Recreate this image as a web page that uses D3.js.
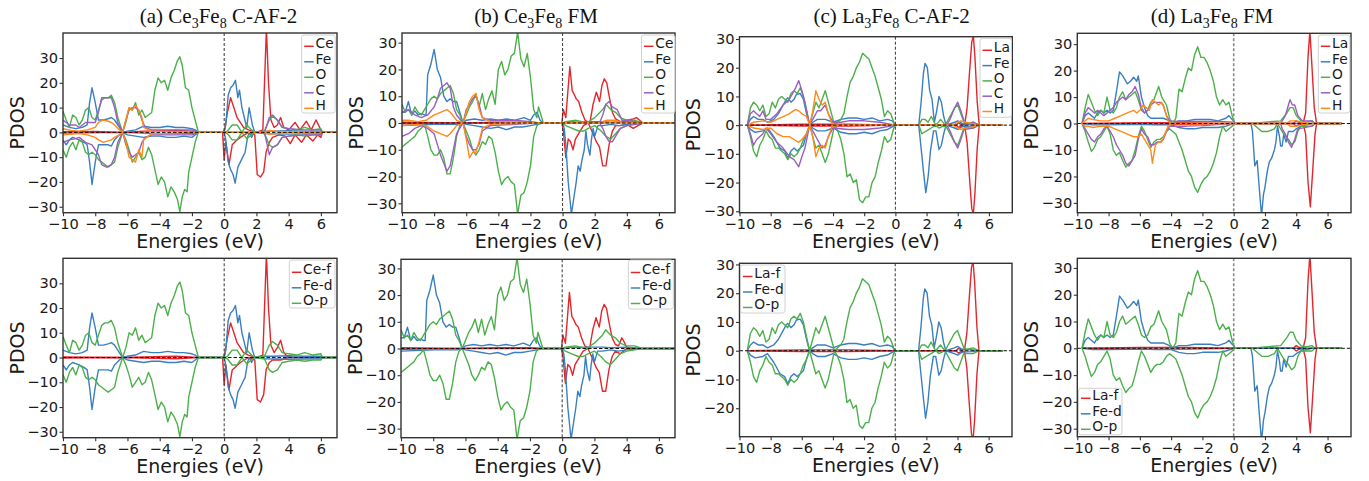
<!DOCTYPE html>
<html><head><meta charset="utf-8">
<script src="https://cdn.jsdelivr.net/npm/d3@7"></script>
<style>body{margin:0;background:#fff}svg{display:block}</style>
</head><body><svg id="c" width="1369" height="481"></svg>
<script>
// ---------- DATA (energy eV, PDOS) ----------
const xTicks=[-10,-8,-6,-4,-2,0,2,4,6];
const yTicks=[-30,-20,-10,0,10,20,30];
const yTicksC=[-20,-10,0,10,20,30];
const titlesMain=["(a) Ce","(b) Ce","(c) La","(d) La"];
const titlesTail=[" C-AF-2"," FM"," C-AF-2"," FM"];
const topLabels=[["Ce","Fe","O","C","H"],["Ce","Fe","O","C","H"],["La","Fe","O","C","H"],["La","Fe","O","C","H"]];
const botLabels=[["Ce-f","Fe-d","O-p"],["Ce-f","Fe-d","O-p"],["La-f","Fe-d","O-p"],["La-f","Fe-d","O-p"]];

// (a) Ce3Fe8 C-AF-2
const aCe_up=[[-10,0.3],[-8,0.4],[-6.3,0],[-5,0.5],[-3,0.8],[-2,0.5],[-1.6,0],[-0.05,0],[0.05,2],[0.2,8],[0.4,14],[0.6,10],[0.8,6],[1.0,4],[1.2,2],[1.5,1],[2.0,0],[2.4,1],[2.62,42],[2.75,20],[2.9,5],[3.1,2],[3.3,3],[3.5,6],[3.7,2],[4.0,1],[4.4,4],[4.7,1],[5.1,4.5],[5.4,1],[5.7,5],[6.0,1],[6.1,0],[7,0]];
const aCe_dn=[[-10,-0.3],[-6.3,0],[-4,-0.5],[-2,-0.5],[-1.6,0],[-0.1,0],[0.0,-11],[0.1,-4],[0.3,-13],[0.5,-5],[0.8,-3],[1.0,-2],[1.5,0],[1.9,-1],[2.05,-17],[2.25,-18],[2.45,-16],[2.6,-8],[2.8,-4],[3.0,-2],[3.4,-1],[3.8,-1.5],[4.1,-4.5],[4.4,-1],[4.8,-4],[5.1,-1],[5.5,-3.5],[5.8,-1],[6.0,-2],[6.1,0],[7,0]];
const aCef_up=[[-10,0.2],[-6.3,0],[-3,0.5],[-1.6,0],[-0.05,0],[0.05,2],[0.2,8],[0.4,14],[0.6,10],[0.8,6],[1.0,4],[1.2,2],[1.5,1],[2.0,0],[2.4,1],[2.62,42],[2.75,20],[2.9,5],[3.1,2],[3.3,4],[3.5,7],[3.7,2],[3.9,0.5],[4.2,0],[7,0]];
const aCef_dn=[[-10,-0.2],[-6.3,0],[-3,-0.5],[-1.6,0],[-0.1,0],[0.0,-11],[0.1,-3],[0.3,-13],[0.5,-5],[1.0,-2],[1.5,0],[1.9,-1],[2.05,-17],[2.25,-18],[2.45,-15],[2.6,-5],[2.8,-2],[3.0,-1],[3.5,-1],[4.0,0],[7,0]];
const aFe_up=[[-10,3],[-9.8,2.5],[-9.6,2],[-9.2,1.5],[-8.8,2],[-8.5,3],[-8.35,12],[-8.2,18],[-8.0,12],[-7.8,5],[-7.5,5],[-7.2,5.5],[-7.0,6],[-6.8,5],[-6.5,2],[-6.3,0],[-6.0,0.5],[-5.5,1],[-5.0,2.5],[-4.5,2],[-4.0,2],[-3.5,2.5],[-3.0,2],[-2.5,2],[-2.0,1.5],[-1.8,1],[-1.6,0],[0,0],[0.1,3],[0.25,15],[0.4,18],[0.55,19],[0.7,21],[0.85,14],[0.95,17],[1.1,10],[1.25,6],[1.4,2],[1.55,10],[1.75,3],[1.9,0],[2.5,0.5],[3,0.5],[4,0.7],[5,0.5],[6,0.5],[6.1,0],[7,0]];
const aFe_dn=[[-10,-3],[-9.8,-5],[-9.6,-3],[-9.4,-2],[-9.0,-3],[-8.7,-4],[-8.5,-5],[-8.35,-12],[-8.2,-21],[-8.0,-12],[-7.8,-5],[-7.5,-5],[-7.2,-5],[-7.0,-5.5],[-6.8,-3],[-6.5,-1],[-6.3,0],[-6.0,-1],[-5.5,-1.5],[-5.0,-2],[-4.5,-1.5],[-4.0,-1.5],[-3.5,-2],[-3.0,-2],[-2.5,-1.5],[-2.0,-2],[-1.8,-1],[-1.6,0],[0,0],[0.1,-3],[0.25,-12],[0.4,-15],[0.55,-17],[0.68,-20.5],[0.85,-14],[1.0,-12],[1.15,-10],[1.3,-8],[1.45,-2],[1.55,0],[1.7,-2],[1.85,0],[2.5,-0.5],[4,-0.7],[6,-0.5],[6.1,0],[7,0]];
const aO_up=[[-10,8.5],[-9.8,5],[-9.6,2],[-9.4,7],[-9.2,6],[-9.0,3],[-8.8,5],[-8.6,9],[-8.4,10],[-8.2,6],[-8.0,5],[-7.8,9],[-7.6,13],[-7.4,14],[-7.2,14],[-7.0,15],[-6.8,12],[-6.6,6],[-6.3,0],[-6.1,4],[-5.9,10],[-5.7,9],[-5.5,12],[-5.3,7],[-5.1,9],[-4.9,6],[-4.7,7],[-4.5,8],[-4.3,17],[-4.1,22],[-3.9,20],[-3.7,21],[-3.5,17],[-3.3,22],[-3.1,25],[-2.9,29],[-2.75,30.5],[-2.6,27],[-2.4,18],[-2.2,17],[-2.0,10],[-1.8,5],[-1.6,0],[0,0],[0.2,0.5],[0.5,3],[0.8,3],[1.1,0],[1.4,3],[1.7,1],[1.9,0],[2.5,0.5],[2.8,5],[3.0,6.5],[3.3,5],[3.6,2],[4,1.5],[4.5,1],[5,2],[5.5,1],[6,1.5],[6.1,0],[7,0]];
const aO_dn=[[-10,-7],[-9.8,-10],[-9.6,-6],[-9.4,-4],[-9.2,-7],[-9.0,-3],[-8.8,-4],[-8.6,-8],[-8.4,-9],[-8.2,-8],[-8.0,-9],[-7.8,-11],[-7.6,-12],[-7.4,-13],[-7.2,-14],[-7.0,-13],[-6.8,-12],[-6.6,-6],[-6.3,0],[-6.1,-3],[-5.9,-7],[-5.7,-12],[-5.5,-10],[-5.3,-8],[-5.1,-11],[-4.9,-10],[-4.7,-6],[-4.5,-9],[-4.3,-15],[-4.1,-21],[-3.9,-18],[-3.7,-20],[-3.5,-26],[-3.3,-22],[-3.1,-24],[-2.9,-27],[-2.75,-32],[-2.6,-26],[-2.45,-23],[-2.3,-24],[-2.2,-16],[-2.0,-10],[-1.8,-4],[-1.6,0],[0,0],[0.2,-0.5],[0.5,-3],[0.8,-3],[1.1,0],[1.4,-2.5],[1.7,-1],[1.9,0],[2.5,-0.5],[2.8,-5],[3.0,-6],[3.3,-5],[3.6,-2],[4,-1.5],[4.5,-1],[5,-1.5],[5.5,-1],[6,-1],[6.1,0],[7,0]];
const aC_up=[[-10,5],[-9.8,4],[-9.6,3],[-9.2,3],[-9,2],[-8.6,4],[-8.2,4],[-8.0,4],[-7.8,8],[-7.6,14],[-7.3,14],[-7.0,14],[-6.8,10],[-6.6,4],[-6.3,0],[-6.1,5],[-5.9,9],[-5.7,10],[-5.5,10],[-5.3,9],[-5.1,5],[-4.9,2],[-4.5,1],[-3.5,1],[-2.5,1],[-2,1],[-1.6,0],[2.5,0],[2.8,6],[3.0,7],[3.3,5],[3.6,2],[4,1.5],[5,1],[6,1],[6.1,0],[7,0]];
const aC_dn=[[-10,-4],[-9.6,-3],[-9.2,-2.5],[-9,-2],[-8.6,-4],[-8.2,-5],[-7.8,-9],[-7.6,-13],[-7.3,-14],[-7.0,-13],[-6.8,-10],[-6.6,-4],[-6.3,0],[-6.1,-5],[-5.9,-8],[-5.7,-10],[-5.5,-9],[-5.3,-8],[-5.1,-4],[-4.9,-2],[-4.5,-1],[-3,-1],[-2,-1],[-1.6,0],[2.5,0],[2.8,-9],[3.0,-6],[3.3,-5],[3.6,-2],[4,-1.5],[5,-1],[6,-1],[6.1,0],[7,0]];
const aH_up=[[-10,1.5],[-9.5,0.8],[-9,0.5],[-8.5,1],[-8,2],[-7.8,4],[-7.5,5],[-7.2,4.5],[-7,4],[-6.8,3],[-6.5,1],[-6.3,0],[-6.1,5],[-5.9,10],[-5.7,9],[-5.5,11],[-5.3,9],[-5.1,6],[-5.0,2],[-4.5,0.5],[-3,0.3],[-1.6,0],[2.5,0],[2.8,0.8],[3.2,0.5],[3.6,0],[7,0]];
const aH_dn=[[-10,-1],[-9,-0.5],[-8.5,-1],[-8,-2],[-7.8,-3],[-7.5,-4],[-7,-3],[-6.8,-2],[-6.5,-1],[-6.3,0],[-6.1,-4],[-5.9,-10],[-5.7,-11],[-5.5,-12],[-5.3,-7],[-5.1,-10],[-5.0,-3],[-4.5,-0.5],[-3,-0.3],[-1.6,0],[2.5,0],[2.8,-0.8],[3.2,-0.5],[3.6,0],[7,0]];

// (b) Ce3Fe8 FM
const bCe_up=[[-10,0.3],[-6.2,0],[-4,0.3],[-2,0.3],[-1.2,0],[-0.05,0],[0.05,5],[0.2,2],[0.45,21],[0.6,12],[0.7,11],[0.85,9],[1.0,8],[1.2,4],[1.4,1],[1.7,0],[1.9,7],[2.1,11.5],[2.3,8],[2.45,14],[2.6,16.5],[2.75,15],[2.9,10],[3.1,4],[3.3,1.5],[3.6,0.5],[4,1],[4.4,1.5],[4.6,2],[4.8,1],[5,0],[7,0]];
const bCe_dn=[[-10,-0.3],[-6.2,0],[-1.2,0],[-0.05,0],[0.05,-3],[0.2,-13],[0.35,-6],[0.5,-7],[0.65,-10],[0.8,-6],[1.0,-4],[1.3,-1],[1.6,0],[1.9,-4],[2.1,-7],[2.3,-9],[2.5,-16],[2.7,-16],[2.9,-8],[3.1,-3],[3.3,-1],[3.6,-1],[4,-0.5],[4.4,-2],[4.7,-1],[5,0],[7,0]];
const bCef_up=[[-10,0.3],[-6.2,0],[-4,0.3],[-2,0.3],[-1.2,0],[-0.05,0],[0.05,5],[0.2,2],[0.45,21],[0.6,12],[0.7,11],[0.85,9],[1.0,8],[1.2,4],[1.4,1],[1.7,0],[1.9,7],[2.1,11.5],[2.3,8],[2.45,14],[2.6,16.5],[2.75,15],[2.9,10],[3.1,4],[3.3,1.5],[3.5,1],[3.7,4],[3.8,3],[4.0,0.5],[4.2,0],[7,0]];
const bCef_dn=[[-10,-0.3],[-6.2,0],[-1.2,0],[-0.05,0],[0.05,-3],[0.2,-13],[0.35,-6],[0.5,-7],[0.65,-10],[0.8,-6],[1.0,-4],[1.3,-1],[1.6,0],[1.9,-4],[2.1,-7],[2.3,-9],[2.5,-16],[2.7,-16],[2.9,-8],[3.1,-3],[3.3,-1],[3.6,-2],[3.8,-1],[4,0],[7,0]];
const bFe_up=[[-10,4],[-9.8,4],[-9.6,8],[-9.4,3],[-9.2,4.5],[-9,3],[-8.8,3.5],[-8.6,3],[-8.5,3],[-8.4,18],[-8.2,22],[-8.0,27.5],[-7.8,20],[-7.6,17],[-7.4,10],[-7.2,8],[-7.0,9],[-6.8,8],[-6.6,8],[-6.4,4],[-6.2,0],[-6.0,1],[-5.5,1.5],[-5,1],[-4.5,1.5],[-4,1],[-3.5,1.5],[-3,1],[-2.4,2],[-2,1],[-1.8,3],[-1.6,4],[-1.4,1],[-1.2,0],[0,0],[0.5,0.5],[1,0.3],[1.5,0.5],[2.5,0.5],[3,0.3],[4,0.5],[5,0],[7,0]];
const bFe_dn=[[-10,-1],[-8,-0.5],[-6.5,-0.5],[-6.2,0],[-6,-0.5],[-5.5,-1],[-5,-1.5],[-4.5,-2],[-4,-1.5],[-3.5,-2.5],[-3,-1.5],[-2.5,-1.5],[-2,-1],[-1.6,-0.5],[-1.2,0],[0,0],[0.1,-2],[0.2,-8],[0.35,-22],[0.45,-28],[0.55,-34],[0.7,-28],[0.85,-22],[0.97,-16],[1.1,-18],[1.2,-14],[1.35,-10],[1.45,-3],[1.55,-8],[1.7,-12],[1.8,-6],[1.9,-2],[2.0,-5],[2.2,-1],[2.5,-1],[3,-0.5],[3.5,-1],[4,-0.5],[5,0],[7,0]];
const bO_up=[[-10,7],[-9.8,4],[-9.6,5],[-9.4,3],[-9.2,6],[-9,4],[-8.8,3],[-8.6,5],[-8.4,7],[-8.2,9],[-8.0,10],[-7.8,9],[-7.6,11],[-7.4,12],[-7.2,13],[-7.0,14],[-6.8,11],[-6.6,5],[-6.4,3],[-6.2,0],[-6.0,3],[-5.8,6],[-5.6,8],[-5.4,11],[-5.2,6],[-5.0,11],[-4.8,5],[-4.6,9],[-4.4,12],[-4.2,7],[-4.0,20],[-3.8,23],[-3.6,18],[-3.4,20],[-3.2,25],[-3.0,26],[-2.8,34],[-2.6,24],[-2.4,21],[-2.2,26],[-2.0,17],[-1.8,5],[-1.6,2],[-1.5,6],[-1.4,4],[-1.2,0],[0,0],[0.2,0.5],[0.8,1],[1.2,0.5],[1.5,0],[2.0,2],[2.5,5],[2.7,7],[3,5],[3.3,4],[3.6,2],[4,1],[4.5,1],[5,0],[7,0]];
const bO_dn=[[-10,-9],[-9.8,-8],[-9.6,-7],[-9.4,-6],[-9.2,-5],[-9,-3],[-8.8,-2],[-8.6,-0.5],[-8.4,-5],[-8.2,-10],[-8,-12],[-7.8,-12],[-7.6,-10],[-7.4,-13],[-7.2,-19],[-7.0,-19],[-6.8,-13],[-6.6,-5],[-6.4,-1],[-6.2,0],[-6.0,-3],[-5.8,-6],[-5.6,-10],[-5.4,-12],[-5.2,-10],[-5.0,-7],[-4.8,-8],[-4.6,-5],[-4.4,-6],[-4.2,-11],[-4,-18],[-3.8,-23],[-3.6,-21],[-3.4,-20],[-3.2,-22],[-3.0,-23],[-2.8,-34],[-2.6,-27],[-2.4,-26],[-2.2,-22],[-2.0,-16],[-1.8,-5],[-1.6,-1],[-1.4,0],[0,0],[0.2,-1],[0.6,-2],[1,-3],[1.3,-3],[1.6,-2],[2,-1],[2.4,-3],[2.7,-5],[3.0,-6],[3.3,-4],[3.6,-2],[4,-1],[5,0],[7,0]];
const bC_up=[[-10,4],[-9.6,5],[-9.2,3],[-8.8,2],[-8.4,3],[-8,6],[-7.8,9],[-7.6,13],[-7.4,14],[-7.2,15],[-7.0,13],[-6.8,6],[-6.6,3],[-6.2,0],[-6,5],[-5.8,7],[-5.6,9],[-5.4,10],[-5.2,7],[-5.0,2],[-4.5,1],[-3,1],[-2,0.5],[-1.5,0],[2.3,0],[2.5,3],[2.7,7],[2.9,8],[3.1,6],[3.4,5],[3.7,1],[4,1],[5,0],[7,0]];
const bC_dn=[[-10,-5],[-9.6,-4],[-9.2,-2],[-8.8,-1],[-8.4,-2],[-8,-4],[-7.8,-8],[-7.6,-12],[-7.4,-15],[-7.2,-18],[-7.0,-16],[-6.8,-10],[-6.6,-4],[-6.2,0],[-6,-5],[-5.8,-8],[-5.6,-10],[-5.4,-10],[-5.2,-8],[-5.0,-3],[-4.5,-1],[-3,-0.5],[-1.5,0],[2.3,0],[2.5,-2],[2.7,-5],[2.9,-7],[3.1,-7],[3.3,-5],[3.6,-2],[4,-1],[5,0],[7,0]];
const bH_up=[[-10,1],[-9.6,1],[-9,0.5],[-8.5,1],[-8,3],[-7.6,4],[-7.2,5],[-7.0,4],[-6.6,1],[-6.2,0],[-6.0,4],[-5.8,8],[-5.6,10],[-5.4,11],[-5.2,5],[-5,2],[-4.5,0.5],[-3,0.2],[-1.5,0],[2.3,0],[2.7,1],[3.3,1],[3.8,0],[7,0]];
const bH_dn=[[-10,-1],[-9,-0.5],[-8.5,-1],[-8,-3],[-7.6,-4],[-7.2,-5],[-7,-4],[-6.6,-1],[-6.2,0],[-6,-6],[-5.8,-13],[-5.6,-11],[-5.4,-11],[-5.2,-7],[-5,-2],[-4.5,-0.5],[-3,-0.2],[-1.5,0],[7,0]];

// (c) La3Fe8 C-AF-2
const cLa_up=[[-9.5,0],[-6,0.3],[-3,0.3],[0,0],[3.9,0],[4.05,0.8],[4.25,0.3],[4.45,0.3],[4.6,6],[4.75,18],[4.9,29],[5.0,31],[5.1,24],[5.25,8],[5.38,0],[6.9,0]];
const cLa_dn=[[-9.5,0],[-6,-0.3],[-3,-0.3],[0,0],[3.9,0],[4.05,-0.8],[4.25,-0.3],[4.45,-0.3],[4.6,-6],[4.75,-18],[4.9,-29],[5.0,-31],[5.1,-24],[5.25,-8],[5.38,0],[6.9,0]];
const cFe_up=[[-9.5,0],[-9.3,2],[-9.1,3],[-8.8,2],[-8.5,2],[-8.2,1],[-7.8,2],[-7.5,4],[-7.2,7],[-7.0,9],[-6.9,9.5],[-6.7,8],[-6.5,9],[-6.35,10.7],[-6.1,11],[-5.9,9],[-5.7,4],[-5.5,0],[-5.3,1],[-5,2],[-4.5,2],[-4,1],[-3.5,2],[-3,2.5],[-2.5,2.5],[-2,2],[-1.5,2.5],[-1,1.5],[-0.5,2],[-0.2,1.5],[0,0],[1.5,0],[1.65,8],[1.8,18],[1.9,21.5],[2.05,20],[2.2,12],[2.35,9],[2.5,1],[2.65,5],[2.8,10],[2.95,8],[3.1,3],[3.25,0],[3.8,1],[4.0,1.5],[4.3,0.5],[5,0.3],[5.3,0],[6.9,0]];
const cFe_dn=[[-9.5,0],[-9.3,-1.5],[-9.0,-2.5],[-8.5,-2],[-8.2,-1],[-7.8,-4],[-7.4,-8],[-7.1,-9],[-6.9,-11.5],[-6.7,-9],[-6.5,-8],[-6.3,-9],[-6.1,-8],[-5.9,-7],[-5.7,-3],[-5.5,0],[-5.3,-1],[-5,-2],[-4.5,-2],[-4,-1],[-3.5,-2.5],[-3,-3],[-2.5,-3],[-2,-2.5],[-1.5,-3],[-1,-2],[-0.5,-1.5],[0,0],[1.5,0],[1.65,-8],[1.8,-16],[1.95,-23.5],[2.1,-18],[2.25,-9],[2.45,-2],[2.6,-2],[2.8,-8.5],[2.95,-7],[3.1,-3],[3.25,0],[3.8,-1],[4.0,-1.5],[4.3,-0.5],[5,-0.3],[5.3,0],[6.9,0]];
const cO_up=[[-9.5,0],[-9.3,6],[-9.1,8],[-8.9,7],[-8.7,5],[-8.5,7],[-8.3,3],[-8.1,4],[-7.9,8],[-7.7,6],[-7.5,9],[-7.3,10],[-7.1,9],[-6.9,8],[-6.7,11],[-6.5,12],[-6.3,11],[-6.1,13],[-5.9,10],[-5.7,5],[-5.5,0],[-5.3,4],[-5.1,8],[-4.9,6],[-4.7,9],[-4.5,12],[-4.3,8],[-4.1,4],[-3.9,0],[-3.7,1],[-3.5,2],[-3.3,4],[-3.1,10],[-2.9,15],[-2.7,17],[-2.5,20],[-2.3,22],[-2.1,25],[-1.9,24],[-1.7,23],[-1.5,20],[-1.3,17],[-1.1,13],[-0.9,9],[-0.7,3],[-0.5,5],[-0.3,4],[-0.1,1],[0,0],[1.5,0],[1.7,2],[1.9,2],[2.1,1],[2.3,3],[2.6,0],[2.9,2],[3.2,0],[3.5,3],[3.8,6],[4.0,7],[4.2,4],[4.4,1],[4.6,0.5],[5,1],[5.2,0.5],[5.4,0],[6.9,0]];
const cO_dn=[[-9.5,0],[-9.3,-4],[-9.1,-9],[-8.9,-11],[-8.7,-7],[-8.5,-5],[-8.3,-2],[-8.1,-4],[-7.9,-5],[-7.7,-8],[-7.5,-8],[-7.3,-9],[-7.1,-10],[-6.9,-12],[-6.7,-10],[-6.5,-11],[-6.3,-10],[-6.1,-8],[-5.9,-5],[-5.7,-3],[-5.5,0],[-5.3,-4],[-5.1,-8],[-4.9,-7],[-4.7,-10],[-4.5,-13],[-4.3,-10],[-4.1,-5],[-3.9,0],[-3.7,-2],[-3.5,-5],[-3.3,-10],[-3.1,-18],[-2.9,-17],[-2.7,-20],[-2.5,-19],[-2.3,-26],[-2.1,-27],[-1.9,-25],[-1.7,-25],[-1.5,-20],[-1.3,-18],[-1.1,-13],[-0.9,-9],[-0.7,-4],[-0.5,-6],[-0.3,-5],[-0.1,-1],[0,0],[1.5,0],[1.7,-3],[2,-2],[2.3,-1],[2.6,0],[2.8,-1],[3.2,0],[3.5,-3],[3.8,-6],[4.0,-7],[4.2,-4],[4.4,-1],[5,-1],[5.4,0],[6.9,0]];
const cC_up=[[-9.5,0],[-9.3,4],[-9.1,5],[-8.9,4],[-8.7,3],[-8.5,5],[-8.3,2],[-8.0,2],[-7.6,4],[-7.2,7],[-6.8,9],[-6.6,11],[-6.4,13],[-6.2,15.5],[-6.0,12],[-5.8,8],[-5.5,0],[-5.3,2],[-5.0,5],[-4.8,5],[-4.5,7],[-4.3,4],[-4.0,1],[-3.5,1],[-3,1.5],[-2,1.5],[-1,1],[0,0],[3.3,0],[3.5,2],[3.8,6],[4.0,8],[4.2,5],[4.4,1.5],[4.6,0.5],[5,1],[5.3,0],[6.9,0]];
const cC_dn=[[-9.5,0],[-9.3,-3],[-9.1,-7],[-8.9,-5],[-8.5,-3],[-8.3,-1],[-8.0,-3],[-7.6,-6],[-7.2,-8],[-6.8,-11],[-6.5,-12],[-6.2,-14.5],[-6.0,-11],[-5.8,-8],[-5.5,0],[-5.3,-2],[-5.0,-5],[-4.7,-8],[-4.5,-7],[-4.3,-4],[-4.0,-1],[-3,-1.5],[-2,-1.5],[-1,-1],[0,0],[3.3,0],[3.5,-2],[3.8,-6],[4.0,-8],[4.2,-5],[4.4,-1.5],[5,-1],[5.3,0],[6.9,0]];
const cH_up=[[-9.5,0],[-9.1,1],[-8.5,1.5],[-8.0,1],[-7.6,2],[-7.2,3],[-6.8,4],[-6.4,5.5],[-6.2,5],[-6.0,4],[-5.7,3],[-5.5,0],[-5.3,5],[-5.1,12],[-4.9,9],[-4.7,7],[-4.5,8],[-4.3,4],[-4.1,1],[-3.9,0],[3.7,0],[4.0,1],[4.2,1.5],[4.5,1],[5,0.5],[5.3,0],[6.9,0]];
const cH_dn=[[-9.5,0],[-9.1,-1],[-8.5,-1.5],[-8.0,-1],[-7.6,-3],[-7.2,-4],[-6.8,-4],[-6.5,-5],[-6.2,-6],[-6.0,-5],[-5.7,-3],[-5.5,0],[-5.3,-4],[-5.1,-11],[-4.9,-8],[-4.7,-7],[-4.5,-8],[-4.3,-4],[-4.1,-1],[-3.9,0],[3.7,0],[4.0,-1],[4.2,-1.5],[4.5,-1],[5,-0.5],[5.3,0],[6.9,0]];

// (d) La3Fe8 FM
const dLa_up=[[-9.7,0],[-6,0.3],[-3,0.3],[0,0],[3.8,0],[4.0,1],[4.2,0.3],[4.45,0.3],[4.6,4],[4.75,25],[4.87,35],[5.0,22],[5.15,6],[5.3,0],[6.9,0]];
const dLa_dn=[[-9.7,0],[-6,-0.3],[-3,-0.3],[0,0],[3.8,0],[4.0,-1],[4.2,-0.3],[4.45,-0.3],[4.6,-4],[4.75,-22],[4.9,-31.5],[5.05,-18],[5.2,-4],[5.3,0],[6.9,0]];
const dFe_up=[[-9.7,0],[-9.5,3],[-9.3,4],[-9.1,3],[-8.9,2],[-8.7,4],[-8.5,5],[-8.3,4],[-8.1,5],[-7.9,4],[-7.7,5],[-7.5,12],[-7.3,19.5],[-7.1,18],[-6.9,16],[-6.8,15],[-6.6,16],[-6.4,17.5],[-6.2,16],[-6.1,18],[-5.9,10],[-5.7,6],[-5.5,3],[-5.3,2],[-5.0,2],[-4.5,2],[-4.1,1],[-4.0,0],[-3.5,1],[-3,1],[-2.5,1.5],[-2,1.5],[-1.5,1.5],[-1,1],[-0.5,2],[-0.3,3],[-0.1,1.5],[0,1],[0.1,0],[6.9,0]];
const dFe_dn=[[-9.7,0],[-9,-0.5],[-8,-0.5],[-6,-0.3],[-5,-0.5],[-4,-0.5],[-3.5,-1.5],[-3,-2],[-2.5,-2],[-2,-1.5],[-1,-1.5],[-0.5,-1],[0,0],[1.1,0],[1.2,-3],[1.35,-16],[1.5,-14],[1.63,-24],[1.78,-35],[1.9,-27],[2.0,-24],[2.15,-18],[2.28,-14.5],[2.43,-13],[2.6,-10],[2.7,-7],[2.8,-1],[2.93,-5],[3.0,-8.5],[3.1,-8.5],[3.2,-4],[3.35,-7],[3.5,-3],[3.8,-3],[4,-2],[4.3,-1],[5,0],[6.9,0]];
const dO_up=[[-9.7,0],[-9.5,6],[-9.3,11],[-9.1,8],[-8.9,5],[-8.7,3],[-8.5,5],[-8.3,4],[-8.1,10],[-7.9,5],[-7.7,4],[-7.5,6],[-7.3,10],[-7.1,12],[-6.9,9],[-6.7,10],[-6.5,11],[-6.3,12],[-6.1,9],[-5.9,5],[-5.7,4],[-5.5,5],[-5.3,8],[-5.1,9],[-4.8,14],[-4.6,10],[-4.3,7],[-4.1,2],[-3.9,0],[-3.7,2],[-3.5,13],[-3.3,12],[-3.1,17],[-2.9,21],[-2.7,20],[-2.5,26],[-2.3,29],[-2.1,25],[-1.9,25],[-1.7,23],[-1.5,20],[-1.3,16],[-1.1,10],[-0.9,7],[-0.7,9],[-0.5,7],[-0.3,8],[-0.1,3],[0,1],[0.1,0],[1.2,0],[2,0.5],[3,1],[3.4,4],[3.6,6],[3.8,6],[4.0,3],[4.3,1],[4.6,0.5],[5,1],[5.2,0],[6.9,0]];
const dO_dn=[[-9.7,0],[-9.5,-3],[-9.3,-7],[-9.1,-10.5],[-8.9,-9],[-8.7,-6],[-8.5,-5],[-8.3,-3],[-8.1,-1],[-7.9,-4],[-7.7,-10],[-7.5,-12],[-7.3,-11],[-7.1,-14],[-6.9,-16.5],[-6.7,-15],[-6.5,-14],[-6.3,-10],[-6.1,-5],[-5.9,-1],[-5.7,-3],[-5.5,-6],[-5.3,-9],[-5.1,-7],[-4.9,-6],[-4.7,-6],[-4.5,-5],[-4.3,-3],[-4.1,-2],[-3.9,-3],[-3.7,-4],[-3.5,-7],[-3.3,-10],[-3.1,-14],[-2.9,-18],[-2.7,-20],[-2.5,-24],[-2.3,-26],[-2.1,-23],[-1.9,-21],[-1.7,-20],[-1.5,-18],[-1.3,-15],[-1.1,-11],[-0.9,-5],[-0.7,-1],[-0.5,-3],[-0.3,-2],[-0.1,-1],[0,0],[1.2,0],[1.6,-2],[1.8,-3],[2.2,-3],[2.6,-2],[2.8,0],[3.0,-2],[3.2,-4],[3.5,-6],[3.7,-8],[3.9,-7],[4.1,-3],[4.3,-1],[5,-1],[5.2,0],[6.9,0]];
const dC_up=[[-9.7,0],[-9.5,4],[-9.3,6],[-9.1,5],[-8.9,4],[-8.7,5],[-8.5,4],[-8.3,3],[-8.1,4],[-7.9,5],[-7.7,6],[-7.5,8],[-7.3,9],[-7.1,10],[-6.9,9],[-6.7,11],[-6.5,12],[-6.3,14],[-6.1,11],[-5.9,6],[-5.7,4],[-5.5,5],[-5.3,7],[-5.1,8],[-4.9,8],[-4.7,8],[-4.5,7],[-4.3,3],[-4.1,1],[-3.5,0.8],[-2,0.8],[-1,0.8],[0,0.5],[0.1,0],[3.0,0],[3.3,3],[3.5,7],[3.6,9],[3.75,7],[3.9,7],[4.1,3],[4.4,1],[5,1],[5.2,0],[6.9,0]];
const dC_dn=[[-9.7,0],[-9.5,-2],[-9.3,-4],[-9.1,-6],[-8.9,-7],[-8.7,-5],[-8.5,-4],[-8.3,-2],[-8.1,-1],[-7.9,-3],[-7.7,-5],[-7.5,-8],[-7.3,-10],[-7.1,-12],[-6.9,-15],[-6.7,-16],[-6.5,-14],[-6.3,-12],[-6.1,-6],[-5.9,-2],[-5.7,-4],[-5.5,-5],[-5.3,-8],[-5.1,-8],[-4.9,-7],[-4.7,-7],[-4.5,-6],[-4.3,-3],[-4.1,-1],[-3,-1],[-2,-0.8],[0,0],[3.0,0],[3.1,-2],[3.3,-4],[3.5,-7],[3.7,-9],[3.9,-6],[4.1,-2],[5,-1],[5.2,0],[6.9,0]];
const dH_up=[[-9.7,0],[-9.5,1],[-9.3,2],[-9.0,1.5],[-8.5,1],[-8.0,1],[-7.6,2],[-7.2,3],[-6.8,4],[-6.4,5],[-6.2,4],[-6.0,5],[-5.8,7],[-5.6,6],[-5.4,5],[-5.2,9],[-5.0,8],[-4.8,7],[-4.6,8],[-4.4,5],[-4.2,1],[-4.0,0],[3.4,0],[3.6,1],[4,1],[4.4,0.5],[4.8,0],[6.9,0]];
const dH_dn=[[-9.7,0],[-9.5,-1],[-9.3,-1],[-9.0,-1.5],[-8.5,-1],[-8.0,-1],[-7.6,-2],[-7.2,-3],[-6.8,-4],[-6.4,-5],[-6.1,-5],[-5.9,-4],[-5.7,-6],[-5.5,-8],[-5.3,-10],[-5.2,-15],[-5.0,-8],[-4.8,-7],[-4.6,-7],[-4.4,-4],[-4.2,-1],[-4.0,0],[3.4,0],[3.6,-1],[4,-1],[4.4,-0.5],[4.8,0],[6.9,0]];

// ---------- STYLE / LAYOUT ----------
const RED="#e3262b",BLUE="#3a7fc0",GREEN="#4cb04a",PURPLE="#9a5fc2",ORANGE="#ff8a1a";
const panels=[
 {L:63,R:337,T:33,B:212.7,xd:[-10,7],yd:[-32.4,40.1],yt:yTicks,vc:"#333",
  s:[[aCe_up,aCe_dn,RED],[aFe_up,aFe_dn,BLUE],[aO_up,aO_dn,GREEN],[aC_up,aC_dn,PURPLE],[aH_up,aH_dn,ORANGE]],
  lab:topLabels[0],lg:{x:301.7,y:35,w:33.5,h:78,r:[43.3,58.8,74.3,89.8,105.3]},ti:0,tx:218.5},
 {L:402,R:675,T:33,B:212.7,xd:[-10,7],yd:[-33.5,33.6],yt:yTicks,vc:"#333",
  s:[[bCe_up,bCe_dn,RED],[bFe_up,bFe_dn,BLUE],[bO_up,bO_dn,GREEN],[bC_up,bC_dn,PURPLE],[bH_up,bH_dn,ORANGE]],
  lab:topLabels[1],lg:{x:641.5,y:35,w:33.5,h:78,r:[43.3,58.8,74.3,89.8,105.3]},ti:1,tx:536},
 {L:739.5,R:1012.3,T:36.7,B:212.7,xd:[-10,7.5],yd:[-30.5,30.8],yt:yTicks,vc:"#333",
  s:[[cLa_up,cLa_dn,RED],[cFe_up,cFe_dn,BLUE],[cO_up,cO_dn,GREEN],[cC_up,cC_dn,PURPLE],[cH_up,cH_dn,ORANGE]],
  lab:topLabels[2],lg:{x:980,y:38.3,w:31.5,h:79,r:[47.3,62.6,77.9,93.2,108.5]},ti:2,tx:891.7},
 {L:1077.3,R:1351,T:33.3,B:212.7,xd:[-10,7.5],yd:[-33.7,34.1],yt:yTicks,vc:"#888",
  s:[[dLa_up,dLa_dn,RED],[dFe_up,dFe_dn,BLUE],[dO_up,dO_dn,GREEN],[dC_up,dC_dn,PURPLE],[dH_up,dH_dn,ORANGE]],
  lab:topLabels[3],lg:{x:1318.3,y:35,w:31.5,h:78,r:[43.3,58.8,74.3,89.8,105.3]},ti:3,tx:1212},
 {L:63,R:337,T:258.3,B:437.7,xd:[-10,7],yd:[-32.4,40.1],yt:yTicks,vc:"#333",
  s:[[aCef_up,aCef_dn,RED],[aFe_up,aFe_dn,BLUE],[aO_up,aO_dn,GREEN]],
  lab:botLabels[0],lg:{x:289.3,y:260,w:45.7,h:48,r:[269.3,284.8,300.3]}},
 {L:401,R:675,T:259.3,B:437.7,xd:[-10,7],yd:[-33.4,33.4],yt:yTicks,vc:"#333",
  s:[[bCef_up,bCef_dn,RED],[bFe_up,bFe_dn,BLUE],[bO_up,bO_dn,GREEN]],
  lab:botLabels[1],lg:{x:628.3,y:260,w:45,h:49,r:[269.5,285,300.5]}},
 {L:739.5,R:1012,T:263.3,B:436.7,xd:[-10,7.5],yd:[-29.9,30.4],yt:yTicksC,vc:"#333",
  s:[[cLa_up,cLa_dn,RED],[cFe_up,cFe_dn,BLUE],[cO_up,cO_dn,GREEN]],
  lab:botLabels[2],lg:{x:740.5,y:265,w:44.5,h:48,r:[273.5,289,304.5]}},
 {L:1077.3,R:1351,T:258.3,B:436.7,xd:[-10,7.5],yd:[-33.0,33.6],yt:yTicks,vc:"#888",
  s:[[dLa_up,dLa_dn,RED],[dFe_up,dFe_dn,BLUE],[dO_up,dO_dn,GREEN]],
  lab:botLabels[3],lg:{x:1078.5,y:388.3,w:43.5,h:46.5,r:[395.3,410.8,426.3]}}
];

const svg=d3.select("#c");
const defs=svg.append("defs");
const SANS="'DejaVu Sans', sans-serif";

panels.forEach((p,i)=>{
  const x=d3.scaleLinear().domain(p.xd).range([p.L,p.R]);
  const y=d3.scaleLinear().domain(p.yd).range([p.B,p.T]);
  defs.append("clipPath").attr("id","cl"+i).append("rect")
    .attr("x",p.L).attr("y",p.T).attr("width",p.R-p.L).attr("height",p.B-p.T);
  const g=svg.append("g");
  const plot=g.append("g").attr("clip-path","url(#cl"+i+")");
  const line=d3.line().x(d=>x(d[0])).y(d=>y(d[1]));
  p.s.forEach(([up,dn,col])=>{
    [up,dn].forEach(arr=>plot.append("path").attr("d",line(arr)).attr("fill","none")
      .attr("stroke",col).attr("stroke-width",1.4).attr("stroke-linejoin","round"));
  });
  // zero reference lines
  plot.append("line").attr("x1",p.L).attr("x2",p.R).attr("y1",y(0)).attr("y2",y(0))
    .attr("stroke","#111").attr("stroke-width",1).attr("stroke-dasharray","3.5,2");
  plot.append("line").attr("x1",x(0)).attr("x2",x(0)).attr("y1",p.T).attr("y2",p.B)
    .attr("stroke",p.vc).attr("stroke-width",p.vc==="#888"?1.6:1).attr("stroke-dasharray","3,2");

  // axes
  const ax=g.append("g").attr("transform",`translate(0,${p.B})`)
    .call(d3.axisBottom(x).tickValues(xTicks).tickSize(3.5).tickSizeOuter(0).tickPadding(2));
  const ay=g.append("g").attr("transform",`translate(${p.L},0)`)
    .call(d3.axisLeft(y).tickValues(p.yt).tickSize(3.5).tickSizeOuter(0).tickPadding(1.5));
  [ax,ay].forEach(a=>{
    a.select(".domain").remove();
    a.selectAll("line").attr("stroke","#333").attr("stroke-width",1.1);
    a.selectAll("text").attr("font-family",SANS).attr("font-size",14.6).attr("fill","#1a1a1a");
  });
  g.append("rect").attr("x",p.L).attr("y",p.T).attr("width",p.R-p.L).attr("height",p.B-p.T)
    .attr("fill","none").attr("stroke","#333").attr("stroke-width",1.4);

  // axis labels
  g.append("text").attr("x",(p.L+p.R)/2).attr("y",p.B+35.5).attr("text-anchor","middle")
    .attr("font-family",SANS).attr("font-size",19).attr("fill","#1a1a1a").text("Energies (eV)");
  const cy=(p.T+p.B)/2, cx=p.L-46;
  g.append("text").attr("transform",`translate(${cx},${cy}) rotate(-90)`).attr("text-anchor","middle")
    .attr("dy","0.35em").attr("font-family",SANS).attr("font-size",19).attr("fill","#1a1a1a").text("PDOS");

  // legend
  const lg=g.append("g");
  lg.append("rect").attr("x",p.lg.x).attr("y",p.lg.y).attr("width",p.lg.w).attr("height",p.lg.h)
    .attr("rx",2.5).attr("fill","#fff").attr("fill-opacity",0.8).attr("stroke","#d0d0d0").attr("stroke-width",1);
  p.lab.forEach((t,k)=>{
    const ry=p.lg.r[k];
    lg.append("line").attr("x1",p.lg.x+2.5).attr("x2",p.lg.x+12).attr("y1",ry+3).attr("y2",ry+3)
      .attr("stroke",p.s[k][2]).attr("stroke-width",1.5);
    lg.append("text").attr("x",p.lg.x+13.8).attr("y",ry).attr("dy","0.36em")
      .attr("font-family",SANS).attr("font-size",13.8).attr("fill","#1a1a1a").text(t);
  });

  // title
  if(p.ti!==undefined){
    const tt=svg.append("text").attr("x",p.tx).attr("y",23).attr("text-anchor","middle")
      .attr("font-family","'Liberation Serif','Times New Roman',serif").attr("font-size",21).attr("fill","#111");
    tt.append("tspan").text(titlesMain[p.ti]);
    tt.append("tspan").attr("font-size",14).attr("dy",5).text("3");
    tt.append("tspan").attr("dy",-5).text("Fe");
    tt.append("tspan").attr("font-size",14).attr("dy",5).text("8");
    tt.append("tspan").attr("dy",-5).text(titlesTail[p.ti]);
  }
});
</script>
</body></html>
